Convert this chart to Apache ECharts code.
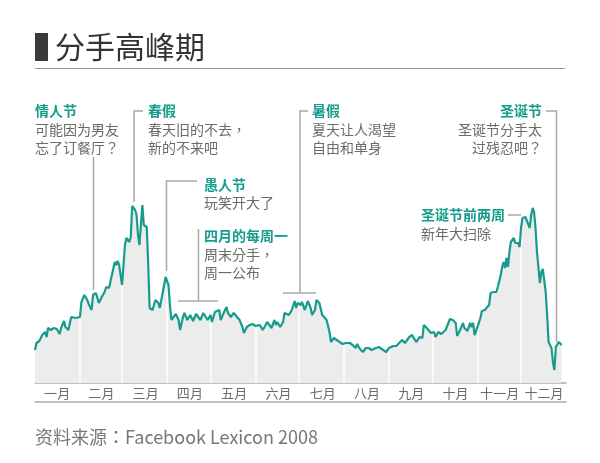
<!DOCTYPE html>
<html>
<head>
<meta charset="utf-8">
<script src="https://cdn.jsdelivr.net/npm/echarts@6/dist/echarts.min.js"></script>
<style>
html,body{margin:0;padding:0;background:#fff;}
#chart{width:600px;height:463px;}
</style>
</head>
<body>
<div id="chart"></div>
<script>
// ---- data (day of year 2008, relative breakup-mention level) ----
var days = [0,1,3,5,7,8,9,11,13,15,17,18,20,21,23,25,26,28,31,32,34,36,37,39,40,42,44,46,48,49,51,53,55,56,57,58,60,62,63,65,66,67,69,70,71,72,73,74,75,77,78,79,80,81,83,85,86,88,89,90,92,93,94,95,97,99,100,102,103,105,107,109,111,112,114,116,117,119,121,122,124,125,127,128,130,132,133,135,137,141,143,144,146,148,150,152,155,157,159,160,163,165,166,167,169,171,172,173,175,177,179,180,181,183,184,186,188,190,191,193,194,196,198,199,201,203,204,206,208,210,212,214,217,219,221,222,224,226,228,230,232,235,237,239,242,244,247,249,251,253,255,256,258,260,261,263,265,267,268,270,271,273,275,276,278,280,281,283,284,286,288,290,291,293,295,296,298,300,301,302,303,305,307,308,310,311,313,314,316,318,319,321,322,323,324,325,326,327,328,330,331,333,334,335,336,338,339,341,342,343,344,345,346,348,349,350,351,352,353,354,356,357,358,359,361,362,363];
var values = [33,40,42,48,51,46,55,53,55,54,49,55,62,56,53,66,67,65,66,81,88,83,79,73,88,90,80,86,91,96,95,108,121,118,122,118,98,138,145,141,146,177,173,168,148,138,140,178,158,156,121,75,73,73,83,80,75,90,91,106,98,78,63,65,69,63,53,66,70,63,68,62,69,67,63,70,71,63,68,61,71,70,73,63,70,76,70,66,70,63,56,50,56,58,59,57,58,53,58,61,55,63,58,61,56,61,70,72,68,73,82,75,80,78,81,73,82,75,68,73,83,80,68,70,63,51,41,45,43,41,39,40,40,38,35,39,34,31,35,35,33,35,36,34,31,35,37,37,40,43,40,42,46,48,45,41,46,45,58,55,53,50,51,46,51,49,51,53,51,64,63,60,47,53,60,55,52,60,56,60,48,56,65,72,73,71,78,90,91,91,96,108,116,121,115,125,116,131,141,145,140,140,136,155,165,166,165,155,168,175,171,155,131,100,111,114,115,91,68,41,35,21,13,36,41,40,38];
var months = ['一月','二月','三月','四月','五月','六月','七月','八月','九月','十月','十一月','十二月'];
var monthStarts = [31,60,91,121,152,182,213,244,274,305,335];

var titleText = '分手高峰期';
var sourceText = '资料来源：Facebook Lexicon 2008';

var TEAL = '#159c8c';
var GRAY_TXT = '#6b6b6b';
var LEAD = '#a8a8a8';
var FONT = '"Noto Sans CJK SC", "Microsoft YaHei", sans-serif';
var FONT_P = '"Noto Sans CJK TC", "Noto Sans CJK SC", sans-serif';

var seriesData = days.map(function (d, i) { return [d, values[i]]; });

function head(x, y, t, align) {
  return { type: 'text', z: 20, style: { x: x, y: y, text: t, fill: TEAL, font: 'bold 14px ' + FONT, textAlign: align || 'left', textVerticalAlign: 'middle' } };
}
function body(x, y, t, align, f) {
  return { type: 'text', z: 20, style: { x: x, y: y, text: t, fill: GRAY_TXT, font: '14px ' + (f || FONT), textAlign: align || 'left', textVerticalAlign: 'middle' } };
}
function lead(points) {
  return { type: 'polyline', z: 15, shape: { points: points }, style: { stroke: LEAD, lineWidth: 1.5, fill: null } };
}

var graphics = [
  { type: 'rect', z: 20, shape: { x: 35, y: 33, width: 13, height: 28 }, style: { fill: '#3a3a3a' } },
  { type: 'text', z: 20, style: { x: 55, y: 47, text: titleText, fill: '#333', font: '30px ' + FONT, textVerticalAlign: 'middle' } },
  { type: 'line', z: 20, shape: { x1: 35, y1: 68.5, x2: 565, y2: 68.5 }, style: { stroke: '#999', lineWidth: 1 } },
  { type: 'text', z: 20, style: { x: 35, y: 437, text: sourceText, fill: '#777', font: '18px ' + FONT_P, textVerticalAlign: 'middle' } },

  // 情人节
  head(35, 111, '情人节'), body(35, 130, '可能因为男友'), body(35, 148, '忘了订餐厅？', 'left', FONT_P),
  lead([[93.5, 157], [93.5, 290]]),
  // 春假
  head(148, 111, '春假'), body(148, 130, '春天旧的不去，', 'left', FONT_P), body(148, 148, '新的不来吧'),
  lead([[143, 111], [134, 111], [134, 202]]),
  // 愚人节
  head(204, 185, '愚人节'), body(204, 203, '玩笑开大了'),
  lead([[197, 181], [166.5, 181], [166.5, 271]]),
  // 四月的每周一
  head(204, 236, '四月的每周一'), body(204, 255, '周末分手，', 'left', FONT_P), body(204, 273, '周一公布'),
  lead([[198.5, 229], [198.5, 301]]), lead([[178, 301], [218, 301]]),
  // 暑假
  head(312, 111, '暑假'), body(312, 130, '夏天让人渴望'), body(312, 148, '自由和单身'),
  lead([[308, 111], [300, 111], [300, 293]]), lead([[283, 293], [316, 293]]),
  // 圣诞节
  head(542, 111, '圣诞节', 'right'), body(542, 130, '圣诞节分手太', 'right'), body(542, 148, '过残忍吧？', 'right', FONT_P),
  lead([[546, 111], [556.5, 111], [556.5, 342]]),
  // 圣诞节前两周
  head(421, 215, '圣诞节前两周'), body(421, 234, '新年大扫除'),
  lead([[508, 215], [521, 215]])
];

var chart = echarts.init(document.getElementById('chart'), null, { renderer: 'canvas' });
chart.setOption({
  animation: false,
  backgroundColor: '#fff',
  grid: { left: 35, right: 34, top: 90, bottom: 80 },
  xAxis: [
    { type: 'value', min: 0, max: 366, axisLine: { show: true, lineStyle: { color: '#aaa', width: 1.5 } },
      axisTick: { show: false }, axisLabel: { show: false }, splitLine: { show: false } },
    { type: 'category', data: months, boundaryGap: true, position: 'bottom',
      axisLine: { show: false }, axisTick: { show: false }, splitLine: { show: false },
      axisLabel: { color: GRAY_TXT, fontSize: 13, fontFamily: FONT, margin: 4, interval: 0 } },
    { type: 'value', min: 0, max: 366, position: 'bottom', offset: 19,
      axisLine: { show: true, lineStyle: { color: '#aaa', width: 1.5 } },
      axisTick: { show: false }, axisLabel: { show: false }, splitLine: { show: false } }
  ],
  yAxis: { type: 'value', min: 0, max: 293, show: false, splitLine: { show: false } },
  series: [
    { type: 'line', data: seriesData, xAxisIndex: 0, symbol: 'none', z: 1,
      lineStyle: { width: 0 }, areaStyle: { color: '#ececec', opacity: 1 },
      markLine: { silent: true, symbol: 'none', z: 2, label: { show: false },
        lineStyle: { color: '#fff', width: 1.5, type: 'solid' },
        data: monthStarts.map(function (d) { return { xAxis: d }; }) } },
    { type: 'line', data: seriesData, xAxisIndex: 0, symbol: 'none', z: 3,
      lineStyle: { color: TEAL, width: 2.2 } }
  ],
  graphic: { elements: graphics }
});
</script>
</body>
</html>
